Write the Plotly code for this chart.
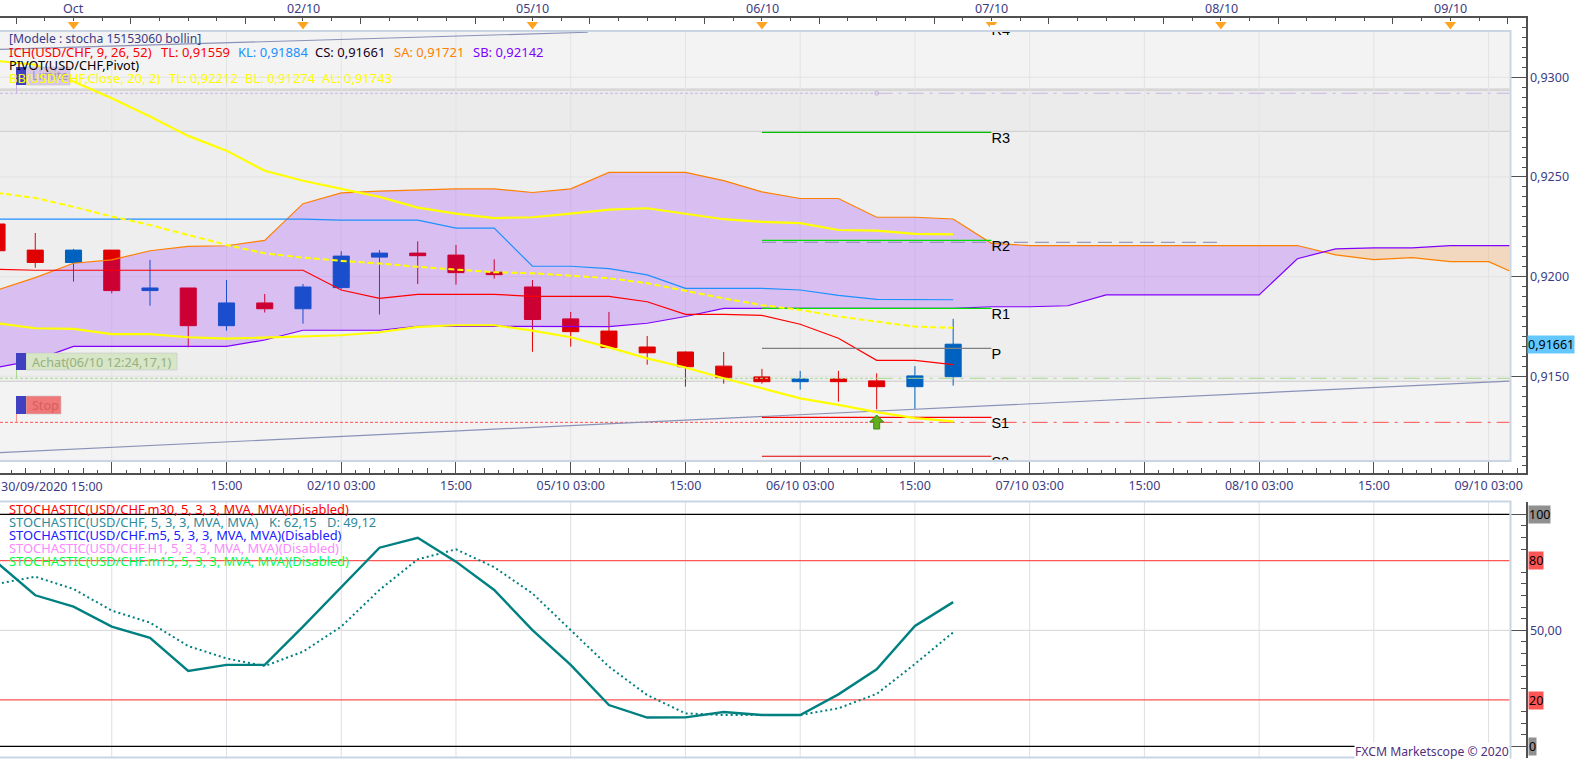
import numpy as np
import plotly.graph_objects as go

W, H = 1583, 760

# H4 bars, bar 0 = 30/09 15:00
opens = [.92264,.92133,.92071,.92133,.91930,.91943,.91754,.91868,.91839,.91945,.92098,.92118,.92108,
         .92022,.91948,.91788,.91727,.91647,.91622,.91551,.91497,.91473,.91487,.91477,.91448,.91498]
highs = [.92264,.92219,.92139,.92133,.92084,.91943,.91983,.91913,.91963,.92128,.92133,.92177,.92159,
         .92087,.91983,.91823,.91823,.91702,.91625,.91622,.91537,.91527,.91527,.91515,.91551,.91788]
lows = [.92130,.92045,.91975,.91916,.91854,.91645,.91729,.91820,.91764,.91936,.91810,.91963,.91960,
        .91990,.91623,.91649,.91644,.91558,.91448,.91463,.91463,.91433,.91373,.91334,.91336,.91453]
closes = [.92130,.92071,.92133,.91930,.91943,.91754,.91868,.91839,.91948,.92103,.92118,.92105,.92020,
          .92010,.91785,.91724,.91644,.91618,.91548,.91493,.91473,.91487,.91473,.91448,.91502,.91661]

tenkan = [.92037,.92032,.92032,.92032,.92032,.92032,.92032,.92032,.92032,.91933,.91891,.91911,.91911,
          .91911,.91901,.91901,.91901,.91874,.91811,.91811,.91806,.91761,.91691,.91580,.91580,.91559]
kijun = [.92288,.92288,.92288,.92288,.92288,.92288,.92288,.92288,.92288,.92283,.92283,.92283,.92243,
         .92243,.92052,.92052,.92040,.92009,.91941,.91941,.91941,.91933,.91906,.91886,.91886,.91884]

# cloud runs past the last candle, 39.55 is where it meets the frame
cloud_x = list(range(40)) + [39.55]
senkou_a = [.91933,.91995,.92067,.92084,.92130,.92152,.92155,.92182,.92366,.92420,.92429,.92434,.92440,
            .92440,.92422,.92440,.92523,.92523,.92523,.92482,.92425,.92392,.92392,.92298,.92298,.92289,
            .92167,.92156,.92156,.92156,.92156,.92156,.92156,.92156,.92156,.92109,.92085,.92095,.92075,
            .92075,.92028]
senkou_b = [.91544,.91581,.91650,.91650,.91650,.91650,.91650,.91682,.91731,.91731,.91731,.91751,.91751,
            .91751,.91749,.91749,.91749,.91766,.91800,.91841,.91841,.91841,.91841,.91841,.91841,.91841,
            .91849,.91849,.91854,.91908,.91908,.91908,.91908,.91908,.92090,.92139,.92144,.92144,.92156,
            .92156,.92156]

bb_top = [.93082,.93063,.92979,.92895,.92803,.92706,.92632,.92531,.92481,.92442,.92400,.92346,.92316,
          .92294,.92298,.92316,.92336,.92343,.92316,.92288,.92275,.92268,.92234,.92231,.92214,.92212]
bb_mid = [.92420,.92395,.92350,.92302,.92259,.92209,.92159,.92117,.92095,.92079,.92066,.92049,.92034,
          .92022,.92017,.92005,.91992,.91967,.91928,.91891,.91857,.91833,.91800,.91774,.91749,.91743]
bb_low = [.91766,.91741,.91738,.91712,.91712,.91696,.91689,.91694,.91699,.91706,.91721,.91748,.91756,
          .91756,.91729,.91696,.91645,.91590,.91544,.91490,.91440,.91389,.91357,.91320,.91290,.91274]

stoch_k = [79.2,65.1,60.2,51.6,46.8,32.5,35.1,35.1,51.6,68.5,85.6,89.9,79.6,67.4,50.1,35.1,17.8,12.4,
           12.5,14.8,13.5,13.5,22.4,33.2,51.9,62.15]
stoch_d = [70.0,73.1,67.8,58.5,53.3,43.2,37.9,34.6,40.8,51.6,67.4,80.6,84.9,77.2,65.9,50.1,34.3,22.1,
           14.2,13.5,13.5,13.5,16.4,22.6,35.5,49.12]

pivot_names = ["R4", "R3", "R2", "R1", "P", "S1", "S2"]
pivot_levels = [.93266, .92724, .92182, .91841, .91640, .91294, .91099]
pivot_colors = ["#00c000", "#00c000", "#00e000", "#00e000", "#808080", "#ff0000", "#e00000"]

top_labels = ["Oct", "02/10", "05/10", "06/10", "07/10", "08/10", "09/10"]
top_label_bars = [2, 8, 14, 20, 26, 32, 38]
bottom_tick_bars = [0.1, 3, 6, 9, 12, 15, 18, 21, 24, 27, 30, 33, 36, 39]
bottom_tick_text = ["", "", "15:00", "02/10 03:00", "15:00", "05/10 03:00", "15:00", "06/10 03:00",
                    "15:00", "07/10 03:00", "15:00", "08/10 03:00", "15:00", "09/10 03:00"]
price_ticks = [.93, .925, .92, .915]
price_text = ["0,9300", "0,9250", "0,9200", "0,9150"]

FONT = "Noto Sans"
FS = 12.5
INK = "#3c3c84"

bars = list(range(26))
X_MIN, X_MAX = 0.078, 39.97
FRAME_R = 39.55


def py(y):
    return 1 - y / H


def px(x):
    return x / W


# pixel row to price, only for placing the ruler marks
def price_at(y):
    return .93 - (y - 77.3) / 19933


TOP_P, BOT_P = price_at(31), price_at(460.7)

fig = go.Figure()

# background zones
for lo, hi, col in [(BOT_P, .91475, "#f3f3f3"), (.91475, .92729, "#eeeeee"),
                    (.92729, .92935, "#ebebeb"), (.92935, TOP_P, "#f3f3f3")]:
    fig.add_shape(type="rect", xref="x", yref="y", x0=X_MIN, x1=FRAME_R, y0=lo, y1=hi,
                  fillcolor=col, line_width=0, layer="below")
for lvl in [.92941, .92935, .92729, .91475]:
    fig.add_shape(type="line", xref="x", yref="y", x0=X_MIN, x1=FRAME_R, y0=lvl, y1=lvl,
                  line=dict(color="#cbcbcb", width=1), layer="below")
for b in range(3, 40, 3):
    fig.add_shape(type="line", xref="x", yref="y", x0=b, x1=b, y0=BOT_P, y1=TOP_P,
                  line=dict(color="#e3e3e3", width=1), layer="below")
    fig.add_shape(type="line", xref="x4", yref="y2", x0=b, x1=b, y0=-4.6, y1=105.3,
                  line=dict(color="#dcdfe3", width=1), layer="below")
for t in price_ticks:
    fig.add_shape(type="line", xref="x", yref="y", x0=X_MIN, x1=FRAME_R, y0=t, y1=t,
                  line=dict(color="#e3e3e3", width=1), layer="below")

fig.add_trace(go.Candlestick(x=bars, open=opens, high=highs, low=lows, close=closes, whiskerwidth=0,
                             increasing=dict(line=dict(color="#0062c0", width=1), fillcolor="#0062c0"),
                             decreasing=dict(line=dict(color="#e00000", width=1), fillcolor="#e00000")))

# cloud, split where the two spans cross
sa, sb = np.array(senkou_a), np.array(senkou_b)
cx = np.array(cloud_x, dtype=float)
k = int(np.where(np.diff(np.sign(sa - sb)) != 0)[0][0])
t = (sa[k] - sb[k]) / ((sa[k] - sb[k]) - (sa[k + 1] - sb[k + 1]))
cross_x = cx[k] + t * (cx[k + 1] - cx[k])
cross_y = sa[k] + t * (sa[k + 1] - sa[k])
xa = np.r_[cx[:k + 1], cross_x]
xb = np.r_[cross_x, cx[k + 1:]]
for xs, ya, yb, col in [(xa, np.r_[sa[:k + 1], cross_y], np.r_[sb[:k + 1], cross_y], "rgba(128,0,255,0.2)"),
                        (xb, np.r_[cross_y, sa[k + 1:]], np.r_[cross_y, sb[k + 1:]], "rgba(255,128,0,0.2)")]:
    fig.add_trace(go.Scatter(x=xs, y=ya, mode="lines", line_width=0))
    fig.add_trace(go.Scatter(x=xs, y=yb, mode="lines", line_width=0, fill="tonexty", fillcolor=col))


def line(x, y, color, width=1.0, dash="solid", **kw):
    fig.add_trace(go.Scatter(x=x, y=y, mode="lines", line=dict(color=color, width=width, dash=dash), **kw))


line(cloud_x, senkou_a, "#ff8000", 1.2)
line(cloud_x, senkou_b, "#8000ff", 1.2)
line(bars, kijun, "#1e90ff", 1.2)
line(bars, tenkan, "#ff0000", 1.2)

# horizontal order lines
ORDER_X = [X_MIN, 23, FRAME_R]
for lvl, col in [(.92920, "#c9b4e2"), (.91490, "#a8d890"), (.91269, "#ff5050")]:
    line(ORDER_X[:2], [lvl, lvl], col, 1, "3px,2px")
    line(ORDER_X[1:], [lvl, lvl], col, 1, "16px,6px,3px,6px")
fig.add_trace(go.Scatter(x=[23], y=[.92920], mode="markers",
                         marker=dict(symbol="circle-open", size=4, color="#c9b4e2")))

# channel trendlines
line([X_MIN, FRAME_R], [.91117, .91476], "#8a92b8", 1.2)
line([X_MIN, 15.45], [.93140, .93226], "#8a92b8", 1.2)
line([20, 32], [.92172, .92172], "#9a98b8", 1.2, "14px,7px")

# pivots, R4 itself sits above the frame
for name, lvl, col in zip(pivot_names[1:], pivot_levels[1:], pivot_colors[1:]):
    line([20, 26], [lvl, lvl], col, 1.2)
fig.add_trace(go.Scatter(x=[26] * len(pivot_names), y=pivot_levels, mode="text", text=pivot_names,
                         textposition="bottom right", cliponaxis=True,
                         textfont=dict(family="Liberation Sans", size=14.5, color="#000000")))

line(bars, bb_mid, "#ffff00", 2, "6px,3px")
line(bars, bb_top, "#ffff00", 2.2)
line(bars, bb_low, "#ffff00", 2.2)

# day markers on the top ruler
fig.add_trace(go.Scatter(x=top_label_bars, y=[price_at(24.5)] * len(top_label_bars), mode="markers", cliponaxis=False,
                         marker=dict(symbol="triangle-down", size=10, color="#ffa420")))

# lower pane
for lvl, col in [(100, "#000000"), (80, "#ff5555"), (20, "#ff5555"), (0, "#000000")]:
    line([X_MIN, FRAME_R], [lvl, lvl], col, 1.2, xaxis="x4", yaxis="y2")
line([X_MIN, FRAME_R], [50, 50], "#dddddd", 1.2, xaxis="x4", yaxis="y2")
line(bars, stoch_d, "#008080", 2, "2px,3px", xaxis="x4", yaxis="y2")
line(bars, stoch_k, "#008080", 2.4, xaxis="x4", yaxis="y2")

x_dom = [0, 1525.7 / W]
x_base = dict(domain=x_dom, range=[X_MIN, X_MAX], showgrid=False, zeroline=False, rangeslider=dict(visible=False),
              showline=True, linecolor="#505050", linewidth=1.5, tickcolor="#505050", tickfont=dict(family=FONT, size=FS, color=INK))

fig.update_layout(
    width=W, height=H,
    margin=dict(l=0, r=0, t=0, b=0, pad=0),
    paper_bgcolor="white", plot_bgcolor="white",
    showlegend=False, boxmode="overlay", boxgap=0.4,
    font=dict(family=FONT, size=FS, color=INK),
    xaxis=dict(x_base, tickmode="array", tickvals=bottom_tick_bars, ticktext=bottom_tick_text, ticks="inside", ticklen=13,
               minor=dict(ticks="inside", ticklen=3.5, tick0=0, dtick=0.375, tickcolor="#505050", showgrid=False)),
    xaxis2=dict(x_base, overlaying="x", tickmode="linear", tick0=0, dtick=0.75, ticks="inside", ticklen=6, showticklabels=False),
    xaxis3=dict(x_base, overlaying="x", side="top", tickmode="linear", tick0=0.5, dtick=3, ticks="inside", ticklen=5.5, showticklabels=False,
                minor=dict(ticks="inside", ticklen=3, tick0=0.5, dtick=0.75, tickcolor="#505050", showgrid=False)),
    xaxis4=dict(domain=x_dom, range=[X_MIN, X_MAX], anchor="y2", visible=False),
    yaxis=dict(domain=[py(473.3), py(18.3)], range=[price_at(473.3), price_at(18.3)], side="right", showgrid=False, zeroline=False,
               showline=True, linecolor="#505050", linewidth=1.5, tickcolor="#505050",
               tickmode="array", tickvals=price_ticks, ticktext=price_text, ticks="inside", ticklen=14.5,
               tickfont=dict(family=FONT, size=FS, color=INK),
               minor=dict(ticks="inside", ticklen=4, tick0=.9, dtick=.0005, tickcolor="#505050", showgrid=False)),
    yaxis2=dict(domain=[py(757.7), py(502)], range=[-4.9, 105.3], side="right", anchor="x4", showgrid=False, zeroline=False,
                showline=True, linecolor="#505050", linewidth=1.5, tickcolor="#505050",
                tickmode="array", tickvals=[0, 50, 100], ticktext=["", "50,00", ""], ticks="inside", ticklen=14.5,
                tickfont=dict(family=FONT, size=FS, color=INK),
                minor=dict(ticks="inside", ticklen=4.5, tickvals=[5, 10, 15, 25, 30, 35, 40, 45, 55, 60, 65, 70, 75, 85, 90, 95, 105],
                           tickcolor="#505050", showgrid=False)),
)

# entry arrow
fig.add_shape(type="path", xref="x", yref="y", xsizemode="pixel", ysizemode="pixel", xanchor=23, yanchor=price_at(422),
              path="M 0 7 L 7 0 L 3 0 L 3 -7 L -3 -7 L -3 0 L -7 0 Z",
              fillcolor="#62ac1e", line=dict(color="#3c8c10", width=1), layer="above")

# frames
for y0, y1 in [(31, 461), (501.5, 757.5)]:
    fig.add_shape(type="rect", xref="paper", yref="paper", x0=px(-2), x1=px(1510.5), y0=py(y1), y1=py(y0),
                  line=dict(color="#c9d5e3", width=2), fillcolor="rgba(0,0,0,0)", layer="above")
# R4 and S2 are cut off by the frame
fig.add_shape(type="rect", xref="paper", yref="paper", x0=px(990), x1=px(1016), y0=py(30), y1=py(25),
              fillcolor="white", line_width=0, layer="above")
fig.add_shape(type="rect", xref="paper", yref="paper", x0=px(990), x1=px(1016), y0=py(469), y1=py(462),
              fillcolor="white", line_width=0, layer="above")


def tag(x1, y0, y1, col, pin_to, pin_col):
    fig.add_shape(type="line", xref="paper", yref="paper", x0=px(16.5), x1=px(16.5), y0=py(y1), y1=py(pin_to),
                  line=dict(color=pin_col, width=1), layer="above")
    fig.add_shape(type="rect", xref="paper", yref="paper", x0=px(26), x1=px(x1), y0=py(y1), y1=py(y0),
                  fillcolor=col, line=dict(color="rgba(200,200,200,0.6)", width=1), layer="above")
    fig.add_shape(type="rect", xref="paper", yref="paper", x0=px(16), x1=px(26), y0=py(y1), y1=py(y0),
                  fillcolor="#4040c0", line_width=0, layer="above")


tag(70, 67, 85, "rgba(212,190,232,0.85)", 93, "#c9b4e2")
tag(177, 353, 370, "#d6e6c6", 378, "#a8d890")
tag(61, 396, 414, "#f07878", 422, "#ff9090")


def text(s, x, y, color=INK, anchor="left", size=FS, family=FONT, **kw):
    fig.add_annotation(text=s, x=px(x), y=py(y), xref="paper", yref="paper", xanchor=anchor, yanchor="middle",
                       showarrow=False, align="left", font=dict(family=family, size=size, color=color), borderpad=0, **kw)


text("Limite", 31, 76, "#a595b5")
text("Achat(06/10 12:24,17,1)", 31, 361.5, "#98b080", size=12.7)
text("Stop", 31, 405, "#d06060")

text("[Modele : stocha 15153060 bollin]", 8, 39, size=12.2)
ich_parts = [("ICH(USD/CHF, 9, 26, 52)", 8, "#ff0000"), ("TL: 0,91559", 159.5, "#ff0000"), ("KL: 0,91884", 236.5, "#2090ff"),
             ("CS: 0,91661", 313.5, "#200020"), ("SA: 0,91721", 393, "#ff8000"), ("SB: 0,92142", 472, "#8000ff")]
for s, x, c in ich_parts:
    text(s, x, 51.7, c, size=13)
text("PIVOT(USD/CHF,Pivot)", 8, 65, "#000000", size=12.7)
for s, x in [("BB(USD/CHF,Close, 20, 2)", 8), ("TL: 0,92212", 168), ("BL: 0,91274", 244), ("AL: 0,91743", 321)]:
    text(s, x, 78, "#ffff00", size=13)

text("STOCHASTIC(USD/CHF.m30, 5, 3, 3, MVA, MVA)(Disabled)", 8, 508.5, "#ff0000", size=12.9)
text("STOCHASTIC(USD/CHF, 5, 3, 3, MVA, MVA)", 8, 521.5, "#2e8b9e", size=12.9)
text("K: 62,15", 268, 521.5, "#2e8b9e", size=12.9)
text("D: 49,12", 326, 521.5, "#2e8b9e", size=12.9)
text("STOCHASTIC(USD/CHF.m5, 5, 3, 3, MVA, MVA)(Disabled)", 8, 534.5, "#2020ff", size=12.9)
text("STOCHASTIC(USD/CHF.H1, 5, 3, 3, MVA, MVA)(Disabled)", 8, 547.5, "#ff88ff", size=12.9)
text("STOCHASTIC(USD/CHF.m15, 5, 3, 3, MVA, MVA)(Disabled)", 8, 561, "#00ff44", size=12.9)

text("FXCM Marketscope © 2020", 1510, 751.5, "#503080", anchor="right", size=12.2, bgcolor="white")

# ruler captions
text("30/09/2020 15:00", 0, 486.7)
for lab, b in zip(top_labels, top_label_bars):
    text(lab, (b - X_MIN) * 38.25, 9, anchor="center")

text("0,91661", 1527, 344, "#000000", bgcolor="#64c8ff")
text("100", 1528, 514.5, "#000000", bgcolor="#909090")
text("80", 1528, 560.5, "#000000", bgcolor="#ff5555")
text("20", 1528, 700.5, "#000000", bgcolor="#ff5555")
text("0", 1528, 746.5, "#000000", bgcolor="#909090")

# overlay rulers need something attached to show
fig.add_trace(go.Scatter(x=[X_MIN], y=[TOP_P], xaxis="x2", mode="markers", marker_opacity=0, hoverinfo="skip"))
fig.add_trace(go.Scatter(x=[X_MIN], y=[TOP_P], xaxis="x3", mode="markers", marker_opacity=0, hoverinfo="skip"))

fig.write_html("out.html", config=dict(displayModeBar=False),
               post_script="document.body.style.margin='0';document.body.style.overflow='hidden';")
